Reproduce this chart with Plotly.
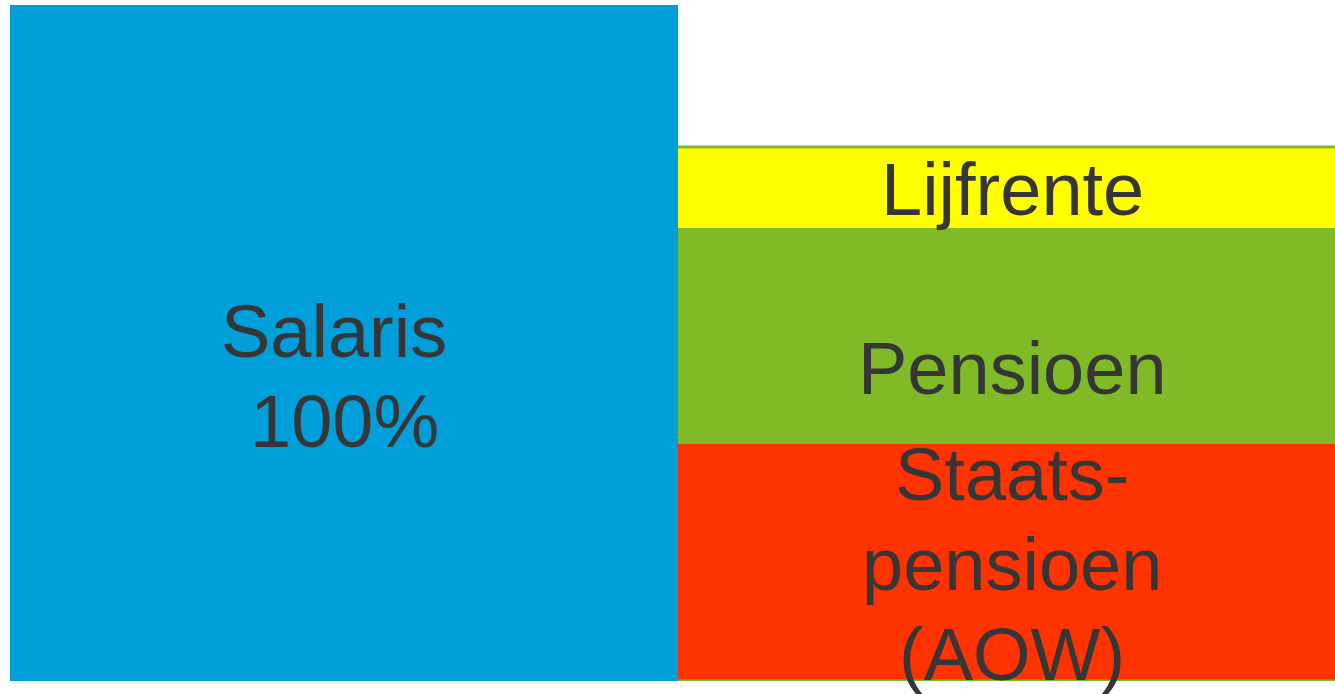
import plotly.graph_objects as go

# ---- data ----
categories = [0, 1]
salaris_value = [100, 0]
aow_value = [0, 35]
pensioen_value = [0, 32]
lijfrente_value = [0, 12]

salaris_label = ["Salaris", "100%"]
aow_label = ["Staats-", "pensioen", "(AOW)"]
pensioen_label = ["Pensioen"]
lijfrente_label = ["Lijfrente"]

# ---- style ----
C_BLUE = "#009FDA"
C_RED = "#FF3300"
C_GREEN = "#80BA27"
C_YELLOW = "#FFFF00"
TXT = "#363636"
FONT = "Liberation Sans, Arial, sans-serif"
FSIZE = 74
PITCH = 90  # px between text lines
BASE_SHIFT = -2

fig = go.Figure()
fig.add_trace(go.Bar(x=categories, y=salaris_value, marker=dict(color=C_BLUE, line=dict(width=0)), name="Salaris"))
fig.add_trace(go.Bar(x=categories, y=aow_value, marker=dict(color=C_RED, line=dict(width=0)), name="AOW"))
fig.add_trace(go.Bar(x=categories, y=pensioen_value, marker=dict(color=C_GREEN, line=dict(width=0)), name="Pensioen"))
fig.add_trace(go.Bar(x=categories, y=lijfrente_value, marker=dict(color=C_YELLOW, line=dict(width=0)), name="Lijfrente"))

annotations = []


def add_label(xcat, ycenter, lines, block_shift=0, xshifts=None):
    n = len(lines)
    for i, line in enumerate(lines):
        offset = ((n - 1) / 2 - i) * PITCH + block_shift + BASE_SHIFT
        annotations.append(dict(
            x=xcat, y=ycenter, xref="x", yref="y", text=line, showarrow=False,
            xanchor="center", yanchor="middle", yshift=offset,
            xshift=(xshifts[i] if xshifts else 0),
            font=dict(family=FONT, size=FSIZE, color=TXT),
        ))


add_label(categories[0], salaris_value[0] / 2, salaris_label, block_shift=-31, xshifts=[-10, 0])
b = aow_value[1]
add_label(categories[1], b / 2, aow_label)
add_label(categories[1], b + pensioen_value[1] / 2, pensioen_label, block_shift=-30)
p = b + pensioen_value[1]
add_label(categories[1], p + lijfrente_value[1] / 2, lijfrente_label)

total_right = aow_value[1] + pensioen_value[1] + lijfrente_value[1]
xr = [-0.5, -0.5 + 1325 / 668]
shapes = [
    dict(type="line", xref="x", yref="y", x0=0.5, x1=xr[1], y0=total_right, y1=total_right,
         line=dict(color=C_GREEN, width=3), layer="above"),
    dict(type="line", xref="x", yref="y", x0=0.5, x1=xr[1], y0=0, y1=0,
         line=dict(color=C_GREEN, width=3), layer="above"),
]

fig.update_layout(
    width=1335, height=694,
    margin=dict(l=10, r=0, t=5, b=13, pad=0),
    barmode="stack", bargap=0,
    showlegend=False,
    plot_bgcolor="white", paper_bgcolor="white",
    xaxis=dict(range=xr, visible=False, fixedrange=True),
    yaxis=dict(range=[0, 100], visible=False, fixedrange=True),
    annotations=annotations,
    shapes=shapes,
)

fig.write_html(
    "out.html",
    config={"displayModeBar": False},
    post_script="document.body.style.margin='0';document.body.style.overflow='hidden';",
)
